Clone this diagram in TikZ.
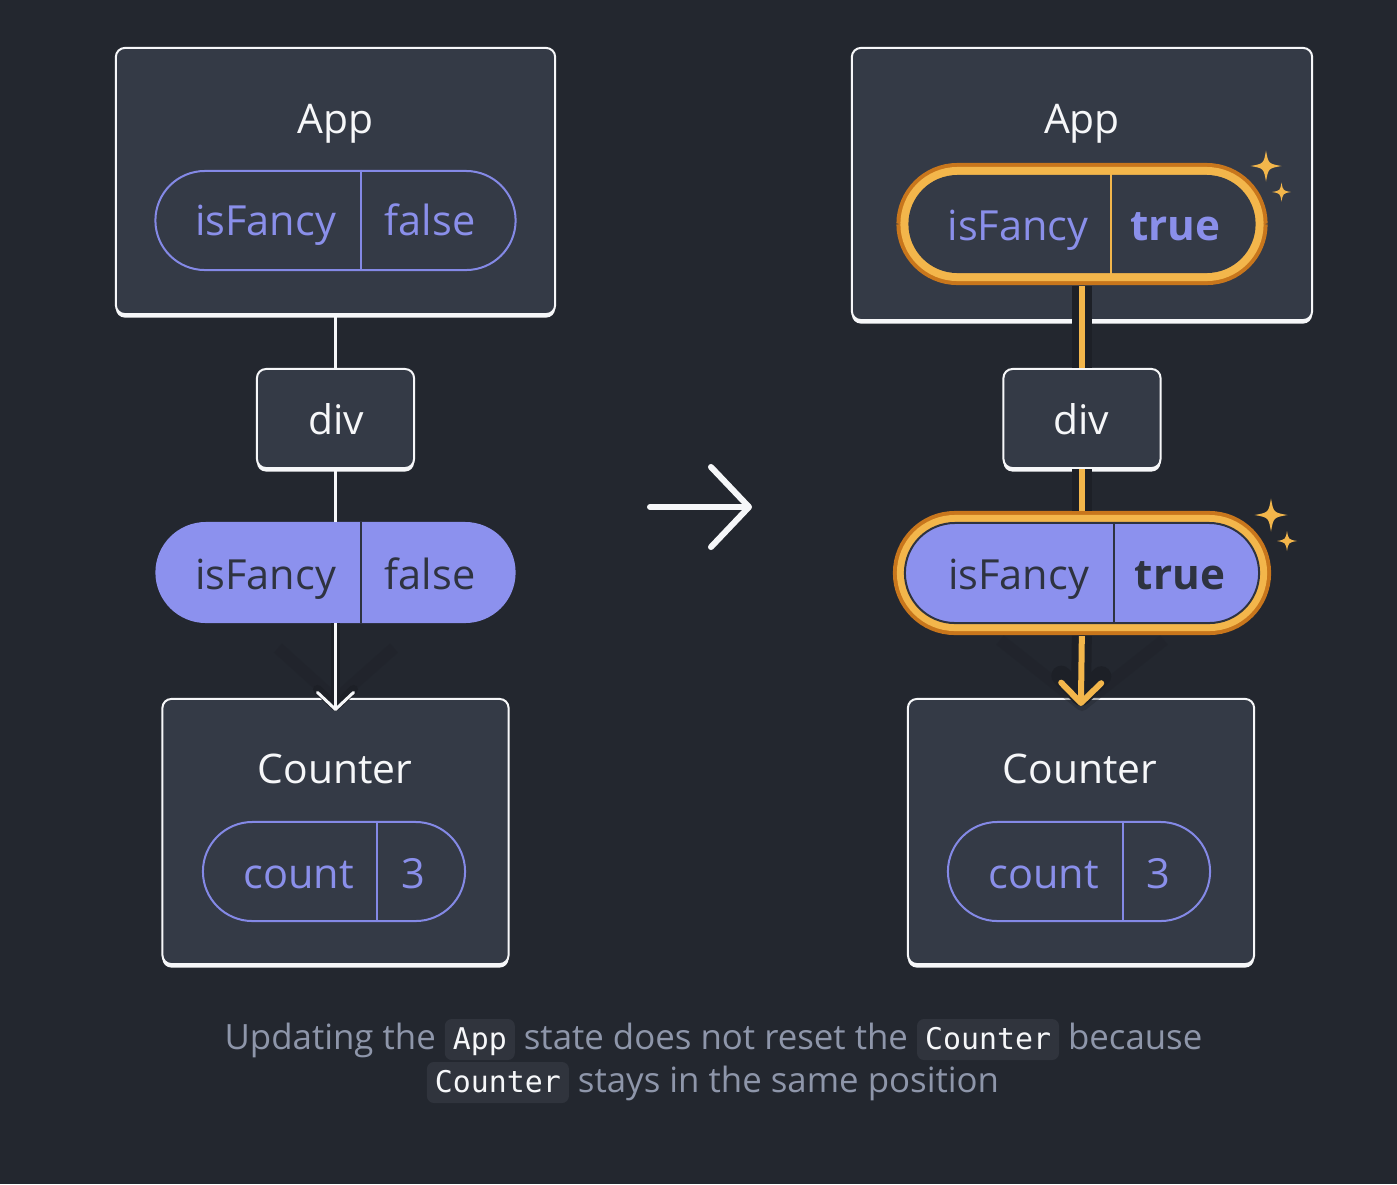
\documentclass[tikz,border=0pt]{standalone}
\usepackage{fontspec}
\setmainfont{Open Sans}
\setmonofont{DejaVu Sans Mono}
\usetikzlibrary{arrows.meta,shadows,positioning}

\definecolor{bgdark}{HTML}{23272F}
\definecolor{cardfill}{HTML}{343A46}
\definecolor{cardline}{HTML}{F6F7F9}
\definecolor{propline}{HTML}{8489E6}
\definecolor{proptext}{HTML}{8A8FEA}
\definecolor{propfill}{HTML}{8C91EE}
\definecolor{inktext}{HTML}{2E3340}
\definecolor{glowlight}{HTML}{F3B64B}
\definecolor{glowdark}{HTML}{C8761C}
\definecolor{halo}{HTML}{1D2027}
\definecolor{captext}{HTML}{8E96AA}
\definecolor{chipfill}{HTML}{30343D}

\tikzset{
  card/.style={draw=cardline, line width=0.57pt, fill=cardfill, rounded corners=0.09cm,
    drop shadow={shadow xshift=0cm, shadow yshift=-0.035cm, fill=cardline, opacity=1}},
  title/.style={font=\fontsize{11.6}{14}\selectfont, text=cardline, anchor=base, inner sep=0pt},
  keytext/.style={font=\fontsize{11.8}{14}\selectfont, anchor=base, inner sep=0pt},
  valbold/.style={font=\fontsize{12}{14}\selectfont\bfseries, anchor=base, inner sep=0pt},
  pill/.style={rectangle, rounded corners=0.495cm, minimum height=0.99cm, inner sep=0pt, line width=0.57pt},
  outlinepill/.style={pill, draw=propline},
  solidpill/.style={pill, fill=propfill, draw=propfill},
  glow/.style={preaction={draw=glowdark, line width=0.24cm}, preaction={draw=glowlight, line width=0.16cm}},
  divider/.style={line width=0.57pt},
  wire/.style={draw=cardline, line width=0.03cm},
  goldwire/.style={draw=glowlight, line width=0.06cm, preaction={draw=halo, line width=0.2cm}},
  chevronshadow/.style={draw=halo, line width=0.12cm, opacity=0.3, line join=round},
  bigarrow/.style={draw=cardline, line width=0.06cm, line cap=round,
    -{Straight Barb[length=0.38cm, width=0.8cm, round]}},
  caption/.style={font=\fontsize{9.9}{12}\selectfont, text=captext, anchor=base, inner sep=0pt},
  codechip/.style={fill=chipfill, rounded corners=0.07cm, text=cardline, inner ysep=0pt, inner xsep=0.08cm,
    text height=0.30cm, text depth=0.11cm, font=\fontsize{8.5}{10}\ttfamily},
  sparkle/.pic={\fill[glowlight] (0,-1) .. controls (0.15,-0.15) .. (1,0) .. controls (0.15,0.15) .. (0,1)
    .. controls (-0.15,0.15) .. (-1,0) .. controls (-0.15,-0.15) .. (0,-1) -- cycle;}
}
\newcommand{\codechip}[1]{\tikz[baseline=(chip.base)]\node[codechip] (chip) {#1};}

\begin{document}
\begin{tikzpicture}[x=0.01cm, y=-0.01cm]
  \fill[bgdark] (0,0) rectangle (1397,1184);
  \useasboundingbox (0,0) rectangle (1397,1184);

  % before: left tree
  \node[card, minimum width=4.39cm, minimum height=2.66cm] at (335.5,181) (appL) {};
  \node[card, minimum width=1.57cm, minimum height=0.99cm] at (335.5,418.5) (divL) {};
  \node[card, minimum width=3.46cm, minimum height=2.65cm] at (335.5,831.5) (counterL) {};
  \node[title] at (335.5,133) (appLTitle) {App};
  \node[title] at (336.5,434) (divLTitle) {div};
  \node[title] at (335,783) (counterLTitle) {Counter};

  \node[outlinepill, minimum width=3.60cm] at (335.5,220.5) (stateL) {};
  \draw[divider, propline] ([xshift=0.255cm]stateL.north) -- ([xshift=0.255cm]stateL.south);
  \node[keytext, text=proptext] at (265.5,235) (stateLKey) {isFancy};
  \node[keytext, text=proptext] at (430,235) (stateLVal) {false};

  \node[solidpill, minimum width=3.58cm] at (335.5,572.5) (flagL) {};
  \draw[divider, inktext] ([xshift=0.255cm]flagL.north) -- ([xshift=0.255cm]flagL.south);
  \node[keytext, text=inktext] at (265.5,589) (flagLKey) {isFancy};
  \node[keytext, text=inktext] at (430,589) (flagLVal) {false};

  \node[outlinepill, minimum width=2.62cm] at (334,871.5) (countL) {};
  \draw[divider, propline] ([xshift=0.43cm]countL.north) -- ([xshift=0.43cm]countL.south);
  \node[keytext, text=proptext] at (298.5,888) (countLKey) {count};
  \node[keytext, text=proptext] at (413,888) (countLVal) {3};

  \draw[chevronshadow] (278,648) -- (335.5,700) -- (394,648);
  \draw[wire] (appL.south) -- (divL.north);
  \draw[wire] (divL.south) -- (flagL.north);
  \draw[wire, preaction={draw=halo, line width=0.09cm}, shorten >=-0.13cm,
    -{Straight Barb[length=0.17cm, width=0.36cm, round]}] (flagL.south) -- (counterL.north);

  % middle arrow
  \coordinate (swapFrom) at (650,507);
  \coordinate (swapTo) at (752,507);
  \draw[bigarrow] (swapFrom) -- (swapTo);

  % after: right tree
  \node[card, minimum width=4.60cm, minimum height=2.72cm] at (1082,184) (appR) {};
  \node[card, minimum width=1.57cm, minimum height=0.99cm] at (1082,418.5) (divR) {};
  \node[card, minimum width=3.46cm, minimum height=2.65cm] at (1081,831.5) (counterR) {};
  \node[title] at (1082,133) (appRTitle) {App};
  \node[title] at (1081.5,434) (divRTitle) {div};
  \node[title] at (1080,783) (counterRTitle) {Counter};

  \node[pill, glow, fill=cardfill, minimum width=3.47cm, minimum height=0.98cm, rounded corners=0.49cm] at (1082,224) (stateR) {};
  \draw[divider, glowlight] ([xshift=0.29cm]stateR.north) -- ([xshift=0.29cm]stateR.south);
  \node[keytext, text=proptext] at (1018,240) (stateRKey) {isFancy};
  \node[valbold, text=proptext] at (1175.5,240) (stateRVal) {true};

  \node[pill, glow, fill=propfill, draw=inktext, minimum width=3.54cm, minimum height=1.0cm, rounded corners=0.5cm] at (1082,573) (flagR) {};
  \draw[divider, inktext] ([xshift=0.32cm]flagR.north) -- ([xshift=0.32cm]flagR.south);
  \node[keytext, text=inktext] at (1018.5,589) (flagRKey) {isFancy};
  \node[valbold, text=inktext] at (1180,589) (flagRVal) {true};

  \node[outlinepill, minimum width=2.62cm] at (1079,871.5) (countR) {};
  \draw[divider, propline] ([xshift=0.44cm]countR.north) -- ([xshift=0.44cm]countR.south);
  \node[keytext, text=proptext] at (1043.5,888) (countRKey) {count};
  \node[keytext, text=proptext] at (1158,888) (countRVal) {3};

  \draw[chevronshadow] (1000,640) -- (1082,705) -- (1164,640);
  \draw[goldwire, shorten <=0.12cm] (stateR.south) -- (divR.north);
  \draw[goldwire, shorten >=0.11cm] (divR.south) -- (flagR.north);
  \draw[goldwire, shorten <=0.12cm, shorten >=-0.08cm,
    -{Straight Barb[length=0.2cm, width=0.4cm, round]}] (flagR.south) -- (counterR.north);

  \pic[scale=15.5] at (1266,166) {sparkle};
  \pic[scale=9.5] at (1281.5,192) {sparkle};
  \pic[scale=16.5] at (1271,515) {sparkle};
  \pic[scale=10] at (1287,541) {sparkle};

  % caption
  \node[caption] at (713.5,1049) (captionTop) {Updating the \codechip{App} state does not reset the \codechip{Counter} because};
  \node[caption] at (713,1092) (captionBottom) {\codechip{Counter} stays in the same position};
\end{tikzpicture}
\end{document}
